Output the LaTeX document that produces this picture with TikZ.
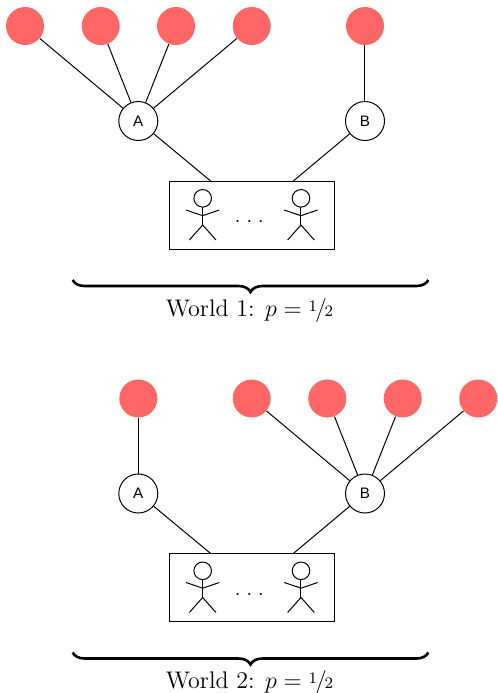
\documentclass[tikz,border=0pt]{standalone}
\usepackage{fontspec}
\newfontfamily\labelfont{Liberation Sans}
\usetikzlibrary{decorations.pathreplacing}
\definecolor{leaf}{HTML}{FF6666}
\begin{document}
\begin{tikzpicture}[x=0.5pt,y=-0.5pt,
  leafnode/.style={circle,fill=leaf,minimum size=19pt,inner sep=0pt},
  agent/.style={circle,draw,line width=0.5pt,minimum size=19.5pt,inner sep=0pt,font=\labelfont\fontsize{7.6}{8}\selectfont},
  link/.style={line width=0.5pt},
  crowd/.style={draw,line width=0.45pt,minimum width=82.3pt,minimum height=34pt,inner sep=0pt},
  bracelabel/.style={font=\fontsize{12}{14}\selectfont,anchor=base},
  dotslabel/.style={anchor=base,inner sep=0pt},
  worldbrace/.style={decorate,decoration={brace,mirror,amplitude=6pt},line width=1.3pt},
  stick/.pic={
    \draw[line width=0.5pt] (0,0) circle[radius=4.4pt];
    \draw[line width=0.5pt] (0,8.8) -- (0,26.7);
    \draw[line width=0.5pt] (-16.7,11.7) -- (0,17.4) -- (16.6,11.7);
    \draw[line width=0.5pt] (-13.4,41.7) -- (0,26.7) -- (13.3,41.7);
  }
]
\useasboundingbox (0,0) rectangle (498,693);

% ---------- World 1 ----------
\node[leafnode] (a1) at (25,26) {};
\node[leafnode] (a2) at (100.7,26) {};
\node[leafnode] (a3) at (176,26) {};
\node[leafnode] (a4) at (251.7,26) {};
\node[leafnode] (b1) at (365,26) {};
\node[agent] (A1) at (138.3,121) {A};
\node[agent] (B1) at (365,121) {B};
\node[crowd] (box1) at (251.7,215) {};
\coordinate (p1) at (210.7,181);
\coordinate (q1) at (293.3,181);
\draw[link] (a1) -- (A1);
\draw[link] (a2) -- (A1);
\draw[link] (a3) -- (A1);
\draw[link] (a4) -- (A1);
\draw[link] (b1) -- (B1);
\draw[link] (A1) -- (p1);
\draw[link] (B1) -- (q1);
\pic at (202.7,198.3) {stick};
\pic at (301,198.3) {stick};
\node[dotslabel] (dots1) at (249.3,226.7) {${\cdot}\kern3pt{\cdot}\kern3pt{\cdot}$};
\coordinate (bl1) at (72.7,280);
\coordinate (br1) at (428.3,280);
\draw[worldbrace] (bl1) -- (br1);
\node[bracelabel] (lab1) at (249.5,316) {World 1: $p = {\raisebox{0.45ex}{$\scriptstyle 1$}\kern-0.08em/\kern-0.1em{\scriptstyle 2}}$};

% ---------- World 2 ----------
\begin{scope}[shift={(0,372.5)}]
\node[leafnode] (c1) at (138.3,26) {};
\node[leafnode] (d1) at (251.7,26) {};
\node[leafnode] (d2) at (327.3,26) {};
\node[leafnode] (d3) at (402.7,26) {};
\node[leafnode] (d4) at (478.3,26) {};
\node[agent] (A2) at (138.3,121) {A};
\node[agent] (B2) at (365,121) {B};
\node[crowd] (box2) at (251.7,215) {};
\coordinate (p2) at (210.7,181);
\coordinate (q2) at (293.3,181);
\draw[link] (c1) -- (A2);
\draw[link] (d1) -- (B2);
\draw[link] (d2) -- (B2);
\draw[link] (d3) -- (B2);
\draw[link] (d4) -- (B2);
\draw[link] (A2) -- (p2);
\draw[link] (B2) -- (q2);
\pic at (202.7,198.3) {stick};
\pic at (301,198.3) {stick};
\node[dotslabel] (dots2) at (249.3,226.7) {${\cdot}\kern3pt{\cdot}\kern3pt{\cdot}$};
\coordinate (bl2) at (72.7,280);
\coordinate (br2) at (428.3,280);
\draw[worldbrace] (bl2) -- (br2);
\node[bracelabel] (lab2) at (249.5,316) {World 2: $p = {\raisebox{0.45ex}{$\scriptstyle 1$}\kern-0.08em/\kern-0.1em{\scriptstyle 2}}$};
\end{scope}
\end{tikzpicture}
\end{document}
